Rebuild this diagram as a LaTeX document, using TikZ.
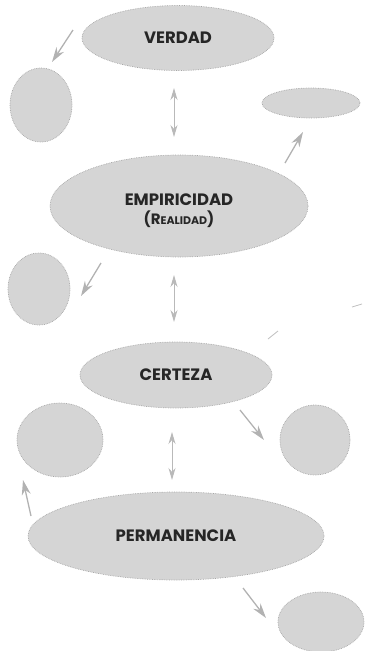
\documentclass[tikz,border=0pt]{standalone}
\usepackage{fontspec}
\setmainfont{Poppins}
\usetikzlibrary{shapes.geometric,arrows.meta,patterns}
\begin{document}
\begin{tikzpicture}[x=1pt,y=-1pt,
  blob/.style={ellipse,fill=gray!33,draw=gray!70,densely dotted,line width=0.7pt,inner sep=0pt},
  lbl/.style={font=\fontsize{16.5}{18}\selectfont\bfseries,text=black!85},
  conn/.style={draw=gray!60,line width=1.3pt,-{Stealth[length=15pt,width=9pt]}},
  dconn/.style={draw=gray!55,line width=1pt,{Stealth[length=12pt,width=7pt]}-{Stealth[length=12pt,width=7pt]}},
  faint/.style={draw=gray!50,line width=0.8pt}]
\useasboundingbox (0,0) rectangle (365,651);
% main ellipses
\node[blob,minimum width=192,minimum height=65] (verdad) at (178,38) {};
\node[lbl] at (verdad) {VERDAD};
\node[blob,minimum width=258,minimum height=102] (emp) at (179,206) {};
\node[lbl,align=center] at (179,211) {EMPIRICIDAD\\[1pt]{\fontsize{15}{16}\selectfont(R\fontsize{11}{12}\selectfont EALIDAD\fontsize{15}{16}\selectfont)}};
\node[blob,minimum width=192,minimum height=66] (cert) at (176,375) {};
\node[lbl] at (cert) {CERTEZA};
\node[blob,minimum width=296,minimum height=88] (perm) at (176,536) {};
\node[lbl] at (perm) {PERMANENCIA};
% side blobs
\node[blob,minimum width=62,minimum height=74] (l1) at (41,105) {};
\node[blob,minimum width=98,minimum height=30] (r1) at (311,103) {};
\node[blob,minimum width=62,minimum height=72] (l2) at (39,289) {};
\node[blob,minimum width=86,minimum height=74] (l3) at (60,440) {};
\node[blob,minimum width=70,minimum height=70] (r3) at (315,440) {};
\node[blob,minimum width=86,minimum height=60] (r4) at (321,622) {};
% connector end points
\coordinate (a1s) at (73,30);  \coordinate (a1e) at (52,62);
\coordinate (v1s) at (174,88); \coordinate (v1e) at (174,137);
\coordinate (a2s) at (285,163); \coordinate (a2e) at (303,132);
\coordinate (a3s) at (101,263); \coordinate (a3e) at (81,296);
\coordinate (v2s) at (174,275); \coordinate (v2e) at (174,322);
\coordinate (a4s) at (240,410); \coordinate (a4e) at (264,440);
\coordinate (v3s) at (172,432); \coordinate (v3e) at (172,480);
\coordinate (a5s) at (31,516); \coordinate (a5e) at (23,480);
\coordinate (a6s) at (243,588); \coordinate (a6e) at (266,618);
\coordinate (f1s) at (268,339); \coordinate (f1e) at (278,331);
\coordinate (f2s) at (352,307); \coordinate (f2e) at (362,304);
% connectors
\draw[conn] (a1s) -- (a1e);
\draw[dconn] (v1s) -- (v1e);
\draw[conn] (a2s) -- (a2e);
\draw[conn] (a3s) -- (a3e);
\draw[dconn] (v2s) -- (v2e);
\draw[conn] (a4s) -- (a4e);
\draw[dconn] (v3s) -- (v3e);
\draw[conn] (a5s) -- (a5e);
\draw[conn] (a6s) -- (a6e);
\draw[faint] (f1s) -- (f1e);
\draw[faint] (f2s) -- (f2e);
\end{tikzpicture}
\end{document}
